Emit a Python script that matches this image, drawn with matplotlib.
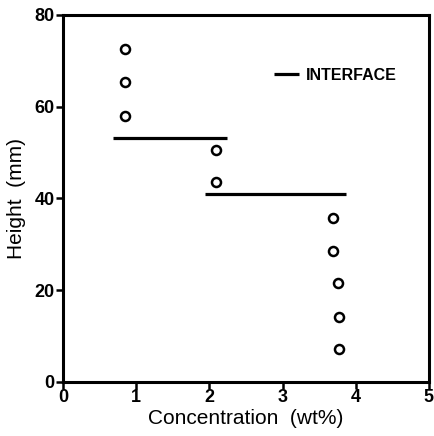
import matplotlib
matplotlib.use("Agg")
import matplotlib.pyplot as plt

plt.rcParams['font.family'] = ['Liberation Sans', 'DejaVu Sans']

# measured points
conc = [0.85, 0.85, 0.85, 2.09, 2.09, 3.69, 3.69, 3.76, 3.77, 3.77]
height = [72.5, 65.3, 58.0, 50.5, 43.6, 35.7, 28.5, 21.5, 14.2, 7.2]

# interface levels
iface_height = [53.2, 41.0]
iface_start = [0.68, 1.94]
iface_end = [2.24, 3.87]

xticks = [0, 1, 2, 3, 4, 5]
yticks = [0, 20, 40, 60, 80]

fig = plt.figure(figsize=(4.35, 4.36), dpi=100)
ax = fig.add_axes([0.145, 0.124, 0.841, 0.842])

ax.plot(conc, height, 'o', ms=6.5, mfc='white', mec='black', mew=1.8, ls='none')
ax.hlines(iface_height, iface_start, iface_end, colors='black', lw=2.3,
          label='INTERFACE')

ax.set_xlim(0, 5)
ax.set_ylim(0, 80)
ax.set_xticks(xticks)
ax.set_yticks(yticks)
ax.tick_params(axis='both', direction='out', length=5, width=1.8, labelsize=13)
ax.tick_params(axis='x', pad=0)
ax.tick_params(axis='y', pad=1)
for lbl in ax.get_xticklabels() + ax.get_yticklabels():
    lbl.set_fontweight('bold')
for sp in ax.spines.values():
    sp.set_linewidth(2.2)

ax.set_xlabel('Concentration  (wt%)', fontsize=15, labelpad=2)
ax.set_ylabel('Height  (mm)', fontsize=15, labelpad=6)

leg = ax.legend(loc='center left', bbox_to_anchor=(0.576, 0.836), frameon=False,
                borderaxespad=0, borderpad=0, handlelength=1.55, handletextpad=0.45,
                prop={'size': 11.5, 'weight': 'bold'})

fig.savefig('out.png', dpi=100)
